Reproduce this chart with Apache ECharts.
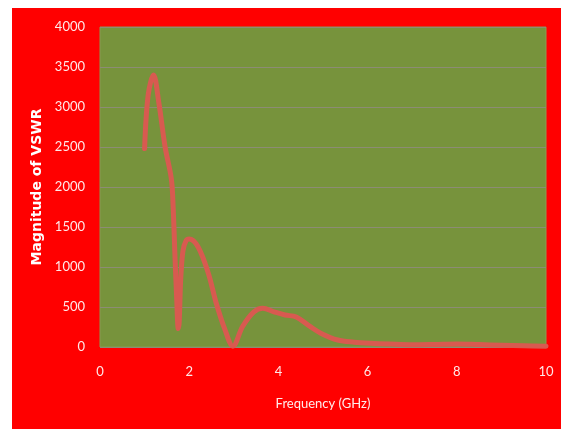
<!DOCTYPE html>
<html>
<head>
<meta charset="utf-8">
<script src="https://cdn.jsdelivr.net/npm/echarts@6/dist/echarts.min.js"></script>
<style>
html,body{margin:0;padding:0;background:#fff;width:561px;height:429px;overflow:hidden;}
#chart{position:absolute;left:12px;top:8px;width:549px;height:421px;}
</style>
</head>
<body>
<div id="chart"></div>
<script>
const frequency = [1.0, 1.08, 1.2, 1.32, 1.46, 1.6, 1.64, 1.68, 1.72, 1.755, 1.775, 1.81, 1.86, 1.93, 2.0, 2.2, 2.43, 2.6, 2.8, 2.98, 3.2, 3.45, 3.65, 3.9, 4.15, 4.4, 4.7, 4.96, 5.33, 5.7, 6.07, 6.5, 7.0, 7.5, 8.0, 8.5, 9.0, 9.5, 10.0];
const vswr = [2480, 3150, 3400, 3050, 2500, 2100, 1750, 1150, 600, 230, 300, 850, 1200, 1330, 1350, 1250, 920, 560, 220, 10, 260, 440, 485, 440, 400, 375, 260, 170, 87, 60, 46, 36, 28, 32, 38, 30, 22, 15, 10];
const xTicks = [0, 2, 4, 6, 8, 10];
const yTicks = [0, 500, 1000, 1500, 2000, 2500, 3000, 3500, 4000];
const seriesData = frequency.map((f, i) => [f, vswr[i]]);

const chart = echarts.init(document.getElementById('chart'));
const font = 'Lato, "Open Sans", sans-serif';
chart.setOption({
  backgroundColor: '#ff0000',
  animation: false,
  grid: {left: 88, top: 19, right: 15, bottom: 82, show: true, backgroundColor: '#77933c', borderColor: '#8a9a50', borderWidth: 1},
  xAxis: {
    type: 'value', min: xTicks[0], max: xTicks[xTicks.length - 1], interval: 2,
    name: 'Frequency (GHz)', nameLocation: 'middle', nameGap: 50,
    nameTextStyle: {color: '#ffecec', fontFamily: font, fontSize: 13},
    axisLine: {show: false}, axisTick: {show: false}, splitLine: {show: false},
    axisLabel: {color: '#ffe8e8', fontFamily: font, fontSize: 13, margin: 18}
  },
  yAxis: {
    type: 'value', min: yTicks[0], max: yTicks[yTicks.length - 1], interval: 500,
    name: 'Magnitude of VSWR', nameLocation: 'middle', nameGap: 50,
    nameTextStyle: {color: '#ffffff', fontFamily: '"DejaVu Sans", sans-serif', fontSize: 14, fontWeight: 'bold'},
    axisLine: {show: false}, axisTick: {show: false},
    splitLine: {show: true, lineStyle: {color: '#8c8c74', width: 1}},
    axisLabel: {color: '#ffe8e8', fontFamily: font, fontSize: 13, margin: 15, formatter: v => String(v)}
  },
  series: [{
    type: 'line', data: seriesData, smooth: 0.35, showSymbol: false,
    lineStyle: {color: '#d85a50', width: 5, join: 'round', cap: 'round'}
  }]
});
</script>
</body>
</html>
